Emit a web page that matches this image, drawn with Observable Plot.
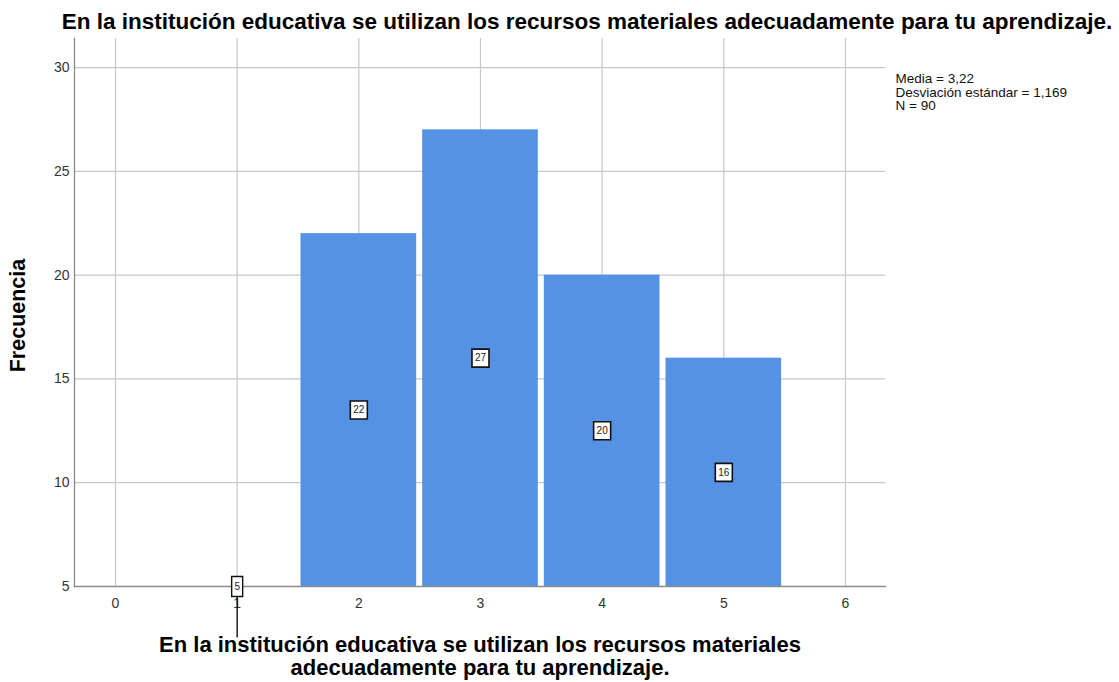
<!DOCTYPE html>
<html>
<head>
<meta charset="utf-8">
<script src="https://cdn.jsdelivr.net/npm/d3@7"></script>
<script src="https://cdn.jsdelivr.net/npm/@observablehq/plot@0.6"></script>
<style>
  html, body { margin: 0; padding: 0; background: #fff; }
  #chart svg { display: block; }
</style>
</head>
<body>
<div id="chart"></div>
<script>
// ---- data ----
const valores = [1, 2, 3, 4, 5];
const frecuencias = [5, 22, 27, 20, 16];
const xTicks = [0, 1, 2, 3, 4, 5, 6];
const yTicks = [5, 10, 15, 20, 25, 30];
const titulo = "En la institución educativa se utilizan los recursos materiales adecuadamente para tu aprendizaje.";
const tituloX = "En la institución educativa se utilizan los recursos materiales\nadecuadamente para tu aprendizaje.";
const tituloY = "Frecuencia";
const estadisticos = ["Media = 3,22", "Desviación estándar = 1,169", "N = 90"];

const data = valores.map((v, i) => ({ v, f: frecuencias[i] }));
const base = 5;

const font = "'Liberation Sans', Arial, Helvetica, sans-serif";
const barColor = "#5592e4";

const boxSym = (w, h, lead) => ({
  draw(ctx) {
    ctx.rect(-w / 2, -h / 2, w, h);
    if (lead) { ctx.moveTo(0, h / 2); ctx.lineTo(0, h / 2 + lead); }
  }
});
const wideBox = boxSym(17, 18, 0);
const narrowBox = boxSym(11, 20, 41);

const plot = Plot.plot({
  width: 1119,
  height: 682,
  marginLeft: 74,
  marginRight: 234,
  marginTop: 38,
  marginBottom: 96,
  style: { fontFamily: font, background: "#fff" },
  x: { domain: [-0.337, 6.329], ticks: xTicks, label: null },
  y: { domain: [5, 31.4], ticks: yTicks, label: null },
  marks: [
    Plot.gridX(xTicks, { stroke: "#c8c8c8", strokeOpacity: 1, strokeWidth: 1.2 }),
    Plot.gridY(yTicks.filter(t => t > base), { stroke: "#c8c8c8", strokeOpacity: 1, strokeWidth: 1.2 }),
    Plot.rect(data, {
      x1: d => d.v - 0.5, x2: d => d.v + 0.5,
      y1: () => base, y2: "f",
      fill: barColor, insetLeft: 3, insetRight: 3
    }),
    Plot.frame({ anchor: "left", stroke: "#8c8c8c", strokeWidth: 1.3 }),
    Plot.frame({ anchor: "bottom", stroke: "#8c8c8c", strokeWidth: 1.3 }),
    Plot.axisY(yTicks, { tickSize: 0, tickPadding: 5, fontSize: 14, fill: "#333", label: null, tickFormat: "d" }),
    Plot.axisX(xTicks, { tickSize: 0, tickPadding: 12, fontSize: 14, fill: "#333", label: null, tickFormat: "d" }),
    // value boxes at bar mid-height
    Plot.dot(data.filter(d => d.f >= 10), {
      x: "v", y: d => (base + d.f) / 2, symbol: wideBox,
      fill: "white", stroke: "#111", strokeWidth: 1.6, r: 5
    }),
    Plot.dot(data.filter(d => d.f < 10), {
      x: "v", y: d => (base + d.f) / 2, symbol: narrowBox,
      fill: "white", stroke: "#111", strokeWidth: 1.4, r: 5
    }),
    Plot.text(data, {
      x: "v", y: d => (base + d.f) / 2, text: d => String(d.f),
      fontSize: 10, fill: "#222"
    }),
    // title
    Plot.text([titulo], {
      frameAnchor: "top", dx: 107, dy: -17, text: d => d, lineAnchor: "middle",
      fontSize: 22.5, fontWeight: "bold", fill: "#000", textAnchor: "middle"
    }),
    // x title
    Plot.text([tituloX], {
      frameAnchor: "bottom", dx: 0, dy: 70, text: d => d, textAnchor: "middle", lineAnchor: "middle",
      fontSize: 22, fontWeight: "bold", fill: "#000", lineHeight: 1.05
    }),
    // y title
    Plot.text([tituloY], {
      frameAnchor: "left", dx: -56, dy: 3, rotate: -90, text: d => d, textAnchor: "middle",
      fontSize: 21.5, fontWeight: "bold", fill: "#000"
    }),
    // stats legend
    Plot.text([estadisticos.join("\n")], {
      frameAnchor: "top-right", dx: 10, dy: 35, text: d => d,
      textAnchor: "start", lineAnchor: "top", fontSize: 13.5, fill: "#111", lineHeight: 1.0
    })
  ]
});
document.getElementById("chart").appendChild(plot);
</script>
</body>
</html>
